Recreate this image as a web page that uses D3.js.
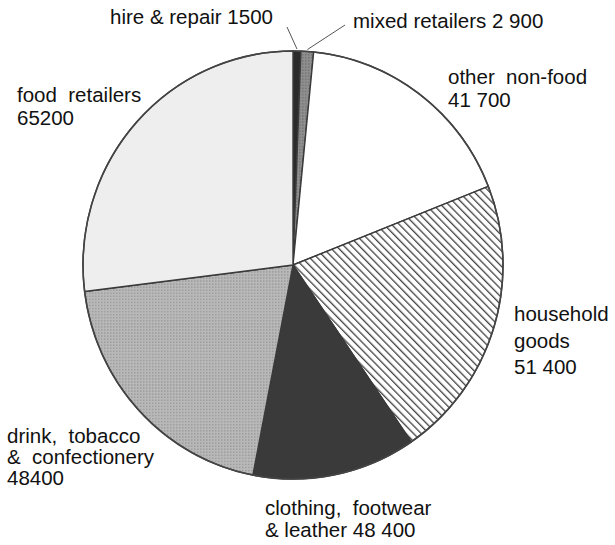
<!DOCTYPE html>
<html>
<head>
<meta charset="utf-8">
<script src="https://cdn.jsdelivr.net/npm/d3@7"></script>
<style>
  html, body { margin: 0; padding: 0; background: #ffffff; }
  svg { display: block; }
  text { font-family: "Liberation Sans", Arial, Helvetica, sans-serif; fill: #111; }
</style>
</head>
<body>
<svg id="chart" width="615" height="545"></svg>
<script>
// ---- data ----
const categories = ["hire & repair", "mixed retailers", "other non-food", "household goods",
                    "clothing, footwear & leather", "drink, tobacco & confectionery", "food retailers"];
const labelValues = ["1500", "2 900", "41 700", "51 400", "48 400", "48400", "65200"];
// share of the circle (percent) as drawn in the picture
const drawnShares = [0.60, 0.97, 17.44, 21.47, 12.58, 19.97, 26.97];
const labelLines = [
  ["hire & repair 1500"],
  ["mixed retailers 2 900"],
  ["other  non-food", "41 700"],
  ["household", "goods", "51 400"],
  ["clothing,  footwear", "& leather 48 400"],
  ["drink,  tobacco", "&  confectionery", "48400"],
  ["food  retailers", "65200"]
];

// ---- layout ----
const W = 615, H = 545;
const cx = 293, cy = 265, rx = 210, ry = 214;
const svg = d3.select("#chart");

const defs = svg.append("defs");
// diagonal hatch for household goods
const hatch = defs.append("pattern").attr("id", "hatch")
  .attr("patternUnits", "userSpaceOnUse").attr("width", 5.4).attr("height", 5.4)
  .attr("patternTransform", "rotate(-45)");
hatch.append("rect").attr("width", 5.4).attr("height", 5.4).attr("fill", "#fff");
hatch.append("rect").attr("x", 0).attr("y", 0).attr("width", 1.3).attr("height", 5.4).attr("fill", "#444");

// fine dotted texture for drink
const dots = defs.append("pattern").attr("id", "dots")
  .attr("patternUnits", "userSpaceOnUse").attr("width", 3).attr("height", 3);
dots.append("rect").attr("width", 3).attr("height", 3).attr("fill", "#b8b8b8");
dots.append("rect").attr("x", 0).attr("y", 0).attr("width", 1.5).attr("height", 1.5).attr("fill", "#9e9e9e");

const dots2 = defs.append("pattern").attr("id", "dots2")
  .attr("patternUnits", "userSpaceOnUse").attr("width", 3).attr("height", 3);
dots2.append("rect").attr("width", 3).attr("height", 3).attr("fill", "#8e8e8e");
dots2.append("rect").attr("x", 0).attr("y", 0).attr("width", 1.5).attr("height", 1.5).attr("fill", "#777");

const fills = ["#2b2b2b", "url(#dots2)", "#ffffff", "url(#hatch)", "#3a3a3a", "url(#dots)", "#eeeeee"];

const pie = d3.pie().sort(null).value(d => d).startAngle(0).endAngle(2 * Math.PI);
const arcs = pie(drawnShares);
const arc = d3.arc().innerRadius(0).outerRadius(rx);

const g = svg.append("g").attr("transform", `translate(${cx},${cy}) scale(1,${ry / rx})`);
g.selectAll("path.slice").data(arcs).enter().append("path")
  .attr("class", "slice")
  .attr("d", arc)
  .attr("fill", (d, i) => fills[i])
  .attr("stroke", "#3a3a3a")
  .attr("stroke-width", 1.4)
  .attr("stroke-linejoin", "round");

g.append("ellipse").attr("cx", 0).attr("cy", 0).attr("rx", rx).attr("ry", rx)
  .attr("fill", "none").attr("stroke", "#444").attr("stroke-width", 1.6);

// ---- labels ----
const labelPos = [
  {x: 110, y: 24, lh: 23},
  {x: 353, y: 28, lh: 23},
  {x: 448, y: 84, lh: 23},
  {x: 514, y: 321, lh: 26.5},
  {x: 265, y: 515, lh: 22},
  {x: 7,   y: 443, lh: 21},
  {x: 17,  y: 102, lh: 23}
];
const fontSize = 20.5;
labelLines.forEach((lines, i) => {
  const t = svg.append("text")
    .attr("x", labelPos[i].x).attr("y", labelPos[i].y)
    .attr("font-size", fontSize);
  lines.forEach((s, j) => {
    t.append("tspan").attr("x", labelPos[i].x).attr("dy", j === 0 ? 0 : labelPos[i].lh)
      .attr("xml:space", "preserve").style("white-space", "pre").text(s);
  });
});

// leader lines for the two small slices
const leaderStart = [{x: 287, y: 27}, {x: 345, y: 25}];
[0, 1].forEach(i => {
  const a = (arcs[i].startAngle + arcs[i].endAngle) / 2;
  const ex = cx + (rx + 2) * Math.sin(a);
  const ey = cy - (ry + 2) * Math.cos(a);
  svg.append("line")
    .attr("x1", leaderStart[i].x).attr("y1", leaderStart[i].y)
    .attr("x2", ex).attr("y2", ey)
    .attr("stroke", "#555").attr("stroke-width", 1);
});
</script>
</body>
</html>
